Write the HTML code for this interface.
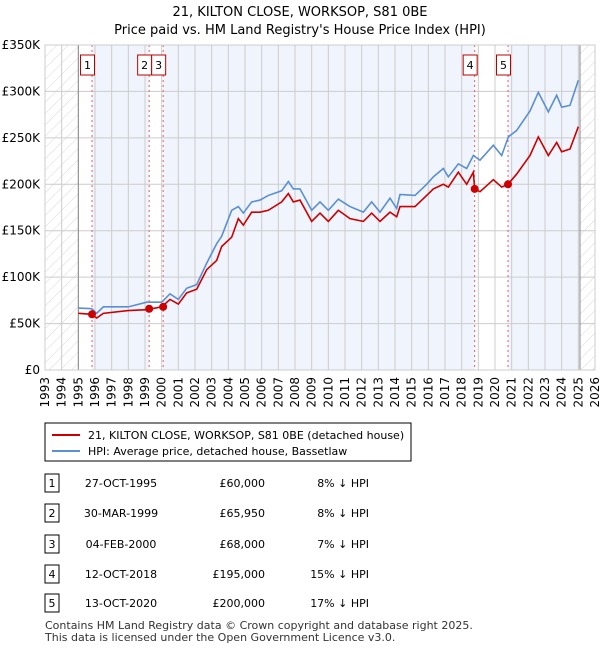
<!DOCTYPE html>
<html><head><meta charset="utf-8"><style>
body{margin:0;width:600px;height:650px;background:#fff;font-family:"Liberation Sans","DejaVu Sans",sans-serif;overflow:hidden}
svg text{font-family:"DejaVu Sans","Liberation Sans",sans-serif}
</style></head><body>
<svg id="c" width="600" height="650" xmlns="http://www.w3.org/2000/svg">
<defs><pattern id="h" width="8" height="8" patternUnits="userSpaceOnUse" patternTransform="rotate(45)"><line x1="0" y1="0" x2="0" y2="8" stroke="#d8d8d8" stroke-width="1"/></pattern></defs>
<text x="300" y="16" text-anchor="middle" font-size="13">21, KILTON CLOSE, WORKSOP, S81 0BE</text>
<text x="300" y="34" text-anchor="middle" font-size="13">Price paid vs. HM Land Registry's House Price Index (HPI)</text>
<g id="plot"></g>
<rect x="45" y="423" width="366" height="38" fill="#fff" stroke="#000" stroke-width="1"/>
<line x1="52" y1="435" x2="80" y2="435" stroke="#cc0000" stroke-width="2"/>
<text x="88" y="439" font-size="11">21, KILTON CLOSE, WORKSOP, S81 0BE (detached house)</text>
<line x1="52" y1="451" x2="80" y2="451" stroke="#5b8fd4" stroke-width="2"/>
<text x="88" y="455" font-size="11">HPI: Average price, detached house, Bassetlaw</text>
<g id="tbl"></g>
<text x="45" y="629" font-size="11" fill="#333">Contains HM Land Registry data © Crown copyright and database right 2025.</text>
<text x="45" y="641" font-size="11" fill="#333">This data is licensed under the Open Government Licence v3.0.</text>
</svg>
<script>
const hpiYears=[1995.0,1995.8,1996.1,1996.5,1998.0,1999.1,2000.0,2000.5,2001.0,2001.5,2002.1,2002.7,2003.3,2003.6,2004.2,2004.6,2004.9,2005.4,2005.9,2006.4,2007.2,2007.6,2007.9,2008.3,2009.0,2009.5,2010.0,2010.6,2011.3,2012.1,2012.6,2013.1,2013.7,2014.1,2014.3,2015.2,2015.9,2016.3,2016.9,2017.2,2017.8,2018.3,2018.7,2019.1,2019.9,2020.4,2020.8,2021.3,2022.1,2022.6,2023.2,2023.7,2024.0,2024.5,2025.0];
const hpiValues=[66.7,66,61,68,68,73,73,82,76,88,92,115,136,144,172,176,169,181,183,188,193,203,195,195,172,181,172,184,176,170,181,170,185,174,189,188,200,208,217,208,222,217,231,226,242,231,251,258,279,299,278,296,283,285,312];
const priceYears=[1995.0,1995.8,1996.1,1996.5,1998.0,1999.1,2000.0,2000.5,2001.0,2001.5,2002.1,2002.7,2003.3,2003.6,2004.2,2004.6,2004.9,2005.4,2005.9,2006.4,2007.2,2007.6,2007.9,2008.3,2009.0,2009.5,2010.0,2010.6,2011.3,2012.1,2012.6,2013.1,2013.7,2014.1,2014.3,2015.2,2015.9,2016.3,2016.9,2017.2,2017.8,2018.3,2018.7,2018.78,2019.1,2019.9,2020.4,2020.78,2021.3,2022.1,2022.6,2023.2,2023.7,2024.0,2024.5,2025.0];
const priceValues=[61,60,56,61,64,65,68,76,71,83,87,108,118,133,143,163,156,170,170,172,181,190,181,183,160,169,160,172,163,160,169,160,170,165,176,176,188,195,200,197,213,200,213,195,192,205,197,200,211,231,251,231,245,235,238,262];
const saleYears=[1995.82,1999.25,2000.09,2018.78,2020.78];
const saleValues=[60,65.95,68,195,200];
const saleLabels=["1","2","3","4","5"];
const yTicks=[0,50,100,150,200,250,300,350];
const yTickLabels=["£0","£50K","£100K","£150K","£200K","£250K","£300K","£350K"];
const tableDates=["27-OCT-1995","30-MAR-1999","04-FEB-2000","12-OCT-2018","13-OCT-2020"];
const tablePrices=["£60,000","£65,950","£68,000","£195,000","£200,000"];
const tableDiffs=["8% ↓ HPI","8% ↓ HPI","7% ↓ HPI","15% ↓ HPI","17% ↓ HPI"];

const X0=45,X1=595,Y0=370,Y1=45,ymin=1993,ymax=2026;
const xs=y=>X0+(y-ymin)/(ymax-ymin)*(X1-X0);
const ys=v=>Y0-v/350*(Y0-Y1);
const NS="http://www.w3.org/2000/svg";
const plot=document.getElementById('plot');
function mk(tag,attrs,parent){const e=document.createElementNS(NS,tag);for(const k in attrs)e.setAttribute(k,attrs[k]);(parent||plot).appendChild(e);return e;}

let bg=mk('rect',{x:X0,y:Y1,width:X1-X0,height:Y0-Y1,fill:'#f0f4fc'});


const bands=[[1995,saleYears[0]],[saleYears[1],saleYears[2]],[saleYears[3],saleYears[4]]];
bands.forEach(b=>{const r=mk('rect',{x:xs(b[0]),y:Y1,width:xs(b[1])-xs(b[0]),height:Y0-Y1,fill:'#fff'});

});
let hl0=mk('rect',{x:X0,y:Y1,width:xs(1995)-X0,height:Y0-Y1,fill:'#fff'});


let hr0=mk('rect',{x:xs(2025.1),y:Y1,width:X1-xs(2025.1),height:Y0-Y1,fill:'#fff'});


let hl=mk('rect',{x:X0,y:Y1,width:xs(1995)-X0,height:Y0-Y1,fill:'url(#h)'});


let hr=mk('rect',{x:xs(2025.1),y:Y1,width:X1-xs(2025.1),height:Y0-Y1,fill:'url(#h)'});


for(let yr=ymin;yr<=ymax;yr++){
 const l=mk('line',{x1:xs(yr),x2:xs(yr),y1:Y1,y2:Y0,stroke:'#ccc','stroke-width':1});
 
 
 const t=mk('text',{x:0,y:0,'font-size':12,'text-anchor':'end',transform:`translate(${xs(yr)+4},377) rotate(-90)`});
 t.textContent=yr;
 
 
}
yTicks.forEach((v,i)=>{
 const l=mk('line',{x1:X0,x2:X1,y1:ys(v),y2:ys(v),stroke:'#ccc','stroke-width':1});
 
 
 const t=mk('text',{x:40,y:ys(v)+4,'font-size':12,'text-anchor':'end'});
 t.textContent=yTickLabels[i];
 
 
});
[1995,2025.1].forEach(y=>{const l=mk('line',{x1:xs(y),x2:xs(y),y1:Y1,y2:Y0,stroke:'#888','stroke-width':1});

});
saleYears.forEach((y,i)=>{
 const l=mk('line',{x1:xs(y),x2:xs(y),y1:Y1,y2:Y0,stroke:'#e06060','stroke-width':1,'stroke-dasharray':'2,3'});
 
 
 const r=mk('rect',{x:xs(y)-11.5,y:55,width:14,height:20,fill:'#fff',stroke:'#b00','stroke-width':1});
 
 
 const t=mk('text',{x:xs(y)-4.5,y:69,'font-size':11,'text-anchor':'middle'});
 t.textContent=saleLabels[i];
 
 
});
const hp=mk('polyline',{points:hpiYears.map((y,i)=>xs(y)+','+ys(hpiValues[i])).join(' '),fill:'none',stroke:'#5b8fd4','stroke-width':1.6});


const pp=mk('polyline',{points:priceYears.map((y,i)=>xs(y)+','+ys(priceValues[i])).join(' '),fill:'none',stroke:'#cc0000','stroke-width':1.6});


saleYears.forEach((y,i)=>{const c=mk('circle',{cx:xs(y),cy:ys(saleValues[i]),r:4,fill:'#cc0000'});

});
const fr=mk('rect',{x:X0,y:Y1,width:X1-X0,height:Y0-Y1,fill:'none',stroke:'#ccc'});



const tbl=document.getElementById('tbl');
const rowY=[483,513,544,574,603];
rowY.forEach((y,i)=>{
 const r=mk('rect',{x:45,y:y-9,width:14,height:18,fill:'#fff',stroke:'#000','stroke-width':1},tbl);
 
 
 const n=mk('text',{x:52,y:y+4,'font-size':11,'text-anchor':'middle'},tbl);n.textContent=saleLabels[i];
 
 
 const d=mk('text',{x:121,y:y+4,'font-size':11,'text-anchor':'middle'},tbl);d.textContent=tableDates[i];
 
 
 const p=mk('text',{x:265,y:y+4,'font-size':11,'text-anchor':'end'},tbl);p.textContent=tablePrices[i];
 
 
 const h=mk('text',{x:369,y:y+4,'font-size':11,'text-anchor':'end'},tbl);h.textContent=tableDiffs[i];
 
 
});
</script>
</body></html>
